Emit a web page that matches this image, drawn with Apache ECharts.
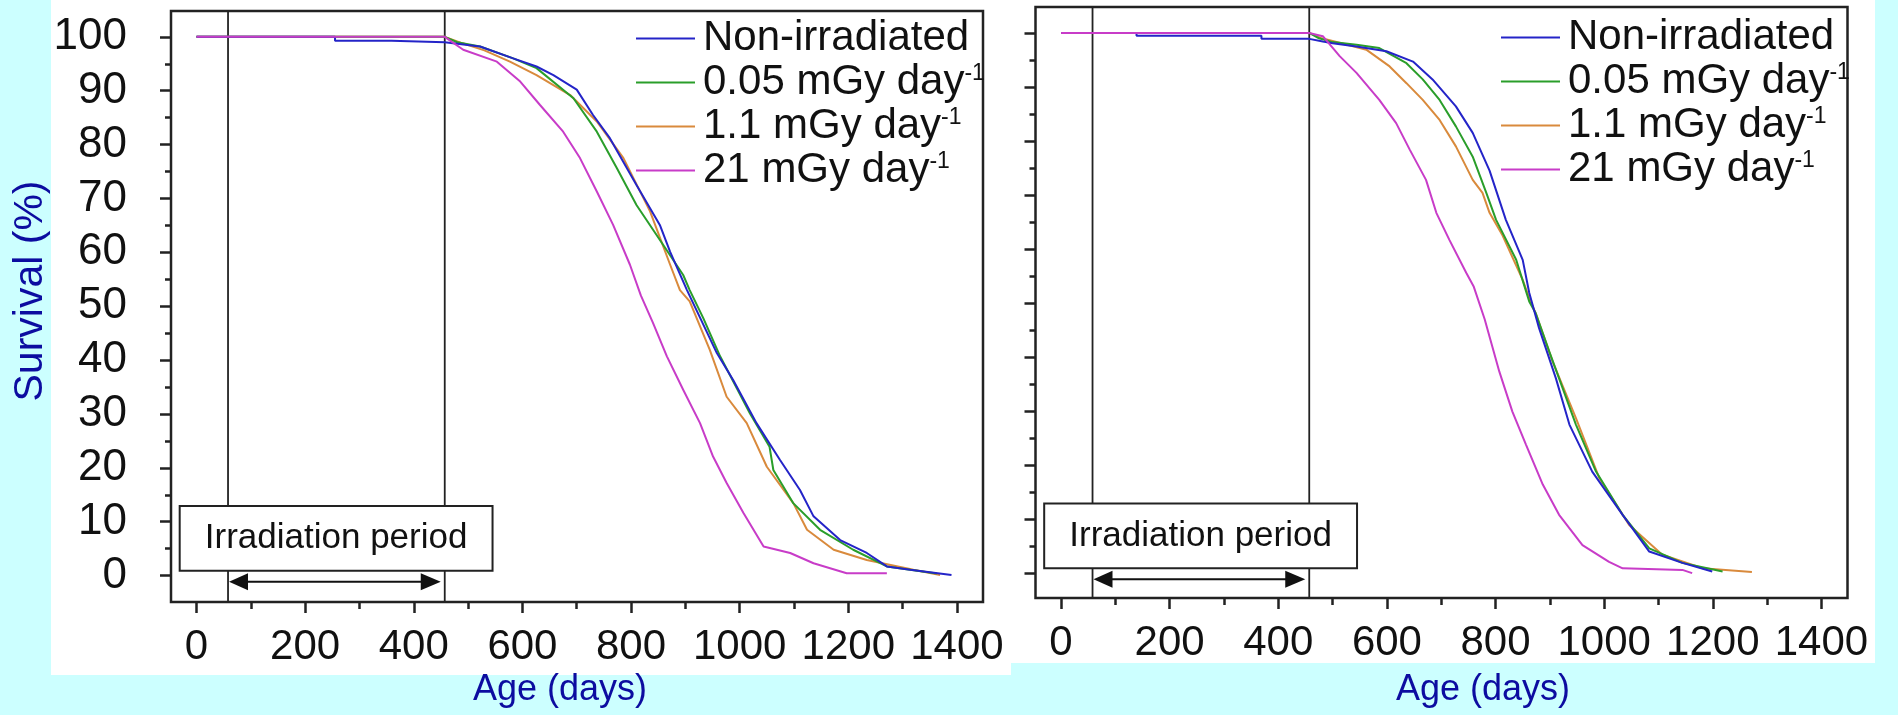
<!DOCTYPE html>
<html>
<head>
<meta charset="utf-8">
<script src="https://cdn.jsdelivr.net/npm/echarts@6/dist/echarts.min.js"></script>
<style>
  html, body { margin: 0; padding: 0; background: #ccffff; }
  #chart { width: 1898px; height: 715px; }
</style>
</head>
<body>
<div id="chart"></div>
<script>
// ---------------- DATA ----------------
const seriesNames = ['Non-irradiated', '0.05 mGy day-1', '1.1 mGy day-1', '21 mGy day-1'];

const xMajorTicks = [0, 200, 400, 600, 800, 1000, 1200, 1400];
const xMinorTicks = [100, 300, 500, 700, 900, 1100, 1300];
const yMajorTicks = [0, 10, 20, 30, 40, 50, 60, 70, 80, 90, 100];
const yMinorTicks = [5, 15, 25, 35, 45, 55, 65, 75, 85, 95];

const irradiationPeriod = [58, 457];   // days

// Left panel  [age (days), survival (%)]
const leftNonIrradiated = [[0,100],[255,100],[255,99.3],[359,99.3],[359,99.0],[457,99.0],[522,98.2],[583,96],[626,94.5],[657,92.9],[700,90.2],[730,85.5],[761,81.2],[810,72.5],[853,65.1],[872,60.1],[903,53],[958,41.3],[988,36.3],[1031,28.3],[1074,21.5],[1111,15.9],[1136,11],[1185,6.6],[1234,4.2],[1271,1.7],[1314,1.1],[1390,0.1]];
const leftDose005 = [[0,100],[457,100],[480,99],[522,98.2],[583,96],[626,94.2],[694,88.6],[737,82.4],[774,75.6],[810,68.8],[859,61.4],[896,55.8],[908,53],[933,47.8],[964,40.7],[1019,30.1],[1055,23.9],[1062,19.6],[1099,13.4],[1148,8.5],[1209,4.8],[1271,1.7],[1363,0.4]];
const leftDose11 = [[0,100],[457,100],[490,98.8],[530,97.5],[577,95.4],[626,92.9],[688,89.2],[737,84.3],[786,77.5],[835,67.6],[872,57.7],[890,53],[908,50.9],[945,41.9],[976,33.2],[1013,28.3],[1050,20.2],[1099,13.4],[1124,8.5],[1173,4.8],[1234,2.9],[1320,1.1],[1369,0.1]];
const leftDose21 = [[0,100],[457,100],[491,97.6],[553,95.4],[596,91.7],[632,87.4],[675,82.4],[706,77.5],[737,71.3],[767,65.1],[798,57.7],[818,52],[840,47],[866,40.7],[896,34.5],[927,28.3],[951,22.1],[976,17.2],[1007,11.6],[1044,5.4],[1093,4.2],[1136,2.3],[1197,0.45],[1271,0.45]];

// Right panel
const rightNonIrradiated = [[0,100],[139,100],[139,99.5],[369,99.5],[369,98.9],[457,98.9],[482,98.4],[500,98.1],[544,97.5],[599,96.6],[648,94.7],[684,91.4],[727,86.4],[758,81.5],[789,74.5],[819,65.4],[850,58],[862,51.9],[880,45.4],[911,36.1],[936,27.5],[978,18.8],[1034,10.8],[1083,4],[1144,1.9],[1199,0.3]];
const rightDose005 = [[0,100],[457,100],[475,99],[500,98.3],[544,97.8],[586,97.2],[636,94.4],[666,91.4],[697,87.6],[727,82.7],[758,77.1],[783,70.4],[801,65.4],[838,58],[862,50.3],[874,48.1],[899,41],[948,27.5],[985,18.8],[1034,10.8],[1083,4.6],[1144,1.9],[1218,0.3]];
const rightDose11 = [[0,100],[457,100],[480,99],[520,98],[562,96.9],[605,93.8],[636,90.7],[666,87.6],[697,83.9],[727,79],[758,72.8],[776,70.4],[789,66.7],[813,62.5],[850,54.3],[862,50.9],[874,48.1],[905,39.2],[948,28.7],[991,17.6],[1046,8.9],[1107,3.4],[1181,0.9],[1272,0.2]];
const rightDose21 = [[0,100],[457,100],[482,99.4],[513,95.7],[544,92.6],[586,87.6],[617,83.3],[642,78.4],[672,72.8],[691,66.7],[715,61.7],[746,55.6],[760,53],[780,47],[807,37.3],[831,29.9],[856,23.8],[887,16.4],[917,10.8],[960,5.2],[1009,2.1],[1034,0.9],[1144,0.6],[1162,0]];

// ---------------- LAYOUT / STYLE ----------------
const FONT = '"Liberation Sans", Arial, Helvetica, sans-serif';
const colors = ['#2424c8', '#2a9e2a', '#d98a3c', '#c83cc8'];
const BOX = { x0: -31, x1: 545, y0: 0.9, y1: 12.9 };   // annotation box (data space)
const ARROW_Y = -1.15;
const X_MIN = -47, X_MAX = 1448;

const chart = echarts.init(document.getElementById('chart'), null, { renderer: 'canvas' });

function renderAnnotation(params, api) {
  const cs = params.coordSys;
  const xs = api.coord([api.value(0), 0])[0];
  const xe = api.coord([api.value(1), 0])[0];
  const p0 = api.coord([BOX.x0, BOX.y1]);
  const p1 = api.coord([BOX.x1, BOX.y0]);
  const ay = api.coord([0, ARROW_Y])[1];
  return {
    type: 'group',
    children: [
      { type: 'line', shape: { x1: xs, y1: cs.y, x2: xs, y2: cs.y + cs.height }, style: { stroke: '#222', lineWidth: 1.8 } },
      { type: 'line', shape: { x1: xe, y1: cs.y, x2: xe, y2: cs.y + cs.height }, style: { stroke: '#222', lineWidth: 1.8 } },
      { type: 'rect', shape: { x: p0[0], y: p0[1], width: p1[0] - p0[0], height: p1[1] - p0[1] }, style: { fill: '#fff', stroke: '#222', lineWidth: 2 } },
      { type: 'text', x: (p0[0] + p1[0]) / 2, y: (p0[1] + p1[1]) / 2,
        style: { text: 'Irradiation period', fontSize: 35, fontFamily: FONT, fill: '#111', align: 'center', verticalAlign: 'middle' } },
      { type: 'line', shape: { x1: xs + 12, y1: ay, x2: xe - 16, y2: ay }, style: { stroke: '#111', lineWidth: 2 } },
      { type: 'polygon', shape: { points: [[xs + 1, ay], [xs + 20, ay - 8.5], [xs + 20, ay + 8.5]] }, style: { fill: '#111' } },
      { type: 'polygon', shape: { points: [[xe - 4, ay], [xe - 24, ay - 8.5], [xe - 24, ay + 8.5]] }, style: { fill: '#111' } }
    ]
  };
}

const plainNumber = v => String(v);

function xAxes(gridIndex, showLabels) {
  return [
    { type: 'value', gridIndex, min: X_MIN, max: X_MAX, position: 'bottom',
      axisLine: { show: false, onZero: false }, splitLine: { show: false },
      axisTick: { show: true, customValues: xMajorTicks, length: 11, lineStyle: { color: '#222', width: 2.5 } },
      axisLabel: { show: showLabels, customValues: xMajorTicks, formatter: plainNumber, fontSize: 42, margin: 24, color: '#111', fontFamily: FONT } },
    { type: 'value', gridIndex, min: X_MIN, max: X_MAX, position: 'bottom',
      axisLine: { show: false, onZero: false }, splitLine: { show: false },
      axisTick: { show: true, customValues: xMinorTicks, length: 7, lineStyle: { color: '#222', width: 2.5 } },
      axisLabel: { show: false } }
  ];
}
function yAxes(gridIndex, yMin, yMax, showLabels) {
  return [
    { type: 'value', gridIndex, min: yMin, max: yMax, position: 'left',
      axisLine: { show: false, onZero: false }, splitLine: { show: false },
      axisTick: { show: true, customValues: yMajorTicks, length: 11, lineStyle: { color: '#222', width: 2.5 } },
      axisLabel: { show: showLabels, customValues: yMajorTicks, formatter: plainNumber, fontSize: 44, margin: 44, color: '#111', fontFamily: FONT } },
    { type: 'value', gridIndex, min: yMin, max: yMax, position: 'left',
      axisLine: { show: false, onZero: false }, splitLine: { show: false },
      axisTick: { show: true, customValues: yMinorTicks, length: 6, lineStyle: { color: '#222', width: 2.5 } },
      axisLabel: { show: false } }
  ];
}

function lineSeries(name, data, colorIdx, xi, yi) {
  return {
    type: 'line', name, data, xAxisIndex: xi, yAxisIndex: yi,
    showSymbol: false, symbol: 'none', silent: true,
    lineStyle: { color: colors[colorIdx], width: 2 },
    itemStyle: { color: colors[colorIdx] },
    z: 3
  };
}

function legend(left, top) {
  return {
    orient: 'vertical', left, top, icon: 'rect', itemWidth: 59, itemHeight: 2.2, itemGap: 2,
    selectedMode: false, data: seriesNames,
    itemStyle: { borderWidth: 0 },
    formatter: n => n.replace(/day-1$/, 'day{sup|-1}'),
    textStyle: {
      fontSize: 42, lineHeight: 40, color: '#111', fontFamily: FONT, padding: [0, 0, 0, 3],
      rich: { sup: { fontSize: 23, lineHeight: 22, verticalAlign: 'top', color: '#111', fontFamily: FONT } }
    }
  };
}

const option = {
  animation: false,
  backgroundColor: '#ccffff',
  graphic: [
    { type: 'rect', left: 51, top: 0, shape: { width: 960, height: 675 }, style: { fill: '#ffffff' }, z: -10 },
    { type: 'rect', left: 1011, top: 0, shape: { width: 864, height: 663 }, style: { fill: '#ffffff' }, z: -10 },
    { type: 'text', x: 31, y: 291, rotation: Math.PI / 2,
      style: { text: 'Survival (%)', fontSize: 41, fontFamily: FONT, fill: '#0c0ca0', align: 'center', verticalAlign: 'middle' } },
    { type: 'text', x: 560, y: 690,
      style: { text: 'Age (days)', fontSize: 36, fontFamily: FONT, fill: '#0c0ca0', align: 'center', verticalAlign: 'middle' } },
    { type: 'text', x: 1483, y: 690,
      style: { text: 'Age (days)', fontSize: 36, fontFamily: FONT, fill: '#0c0ca0', align: 'center', verticalAlign: 'middle' } }
  ],
  grid: [
    { left: 171, top: 11, width: 812, height: 591, show: true, borderColor: '#222', borderWidth: 2.5, backgroundColor: 'transparent' },
    { left: 1035.5, top: 7, width: 812, height: 591, show: true, borderColor: '#222', borderWidth: 2.5, backgroundColor: 'transparent' }
  ],
  xAxis: [...xAxes(0, true), ...xAxes(1, true)],
  yAxis: [...yAxes(0, -4.9, 104.8, true), ...yAxes(1, -4.6, 104.8, false)],
  legend: [legend(631, 12.5), legend(1496, 11.5)],
  series: [
    { type: 'custom', xAxisIndex: 0, yAxisIndex: 0, data: [irradiationPeriod], renderItem: renderAnnotation, silent: true, clip: false, z: 2, encode: { x: [0, 1] } },
    { type: 'custom', xAxisIndex: 2, yAxisIndex: 2, data: [irradiationPeriod], renderItem: renderAnnotation, silent: true, clip: false, z: 2, encode: { x: [0, 1] } },
    lineSeries(seriesNames[2], leftDose11, 2, 0, 0),
    lineSeries(seriesNames[1], leftDose005, 1, 0, 0),
    lineSeries(seriesNames[0], leftNonIrradiated, 0, 0, 0),
    lineSeries(seriesNames[3], leftDose21, 3, 0, 0),
    lineSeries(seriesNames[2], rightDose11, 2, 2, 2),
    lineSeries(seriesNames[1], rightDose005, 1, 2, 2),
    lineSeries(seriesNames[0], rightNonIrradiated, 0, 2, 2),
    lineSeries(seriesNames[3], rightDose21, 3, 2, 2)
  ]
};
chart.setOption(option);
</script>
</body>
</html>
